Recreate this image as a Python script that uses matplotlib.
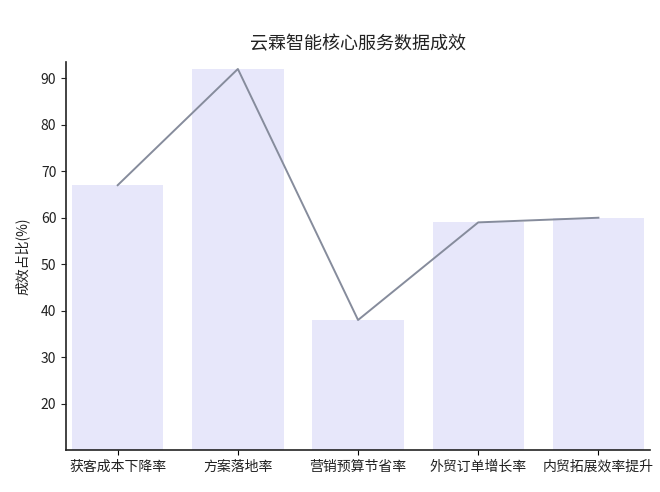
import matplotlib
matplotlib.use('Agg')
import matplotlib.pyplot as plt
import numpy as np

plt.rcParams['font.family'] = ['Noto Sans CJK SC', 'DejaVu Sans']

categories = ['获客成本下降率', '方案落地率', '营销预算节省率', '外贸订单增长率', '内贸拓展效率提升']
values = [67, 92, 38, 59, 60]

BAR = '#E7E7FA'
LINE = '#868C9C'
INK = '#222222'

fig = plt.figure(figsize=(6.6, 4.92), dpi=100)
ax = fig.add_axes([0.1, 0.085, 0.885, 0.789])

x = np.arange(len(categories))
ax.bar(x, values, 0.76, color=BAR, zorder=1)
ax.plot(x, values, color=LINE, linewidth=1.4, zorder=2)

ax.set_xlim(-0.43, len(categories) - 0.57)
ax.set_ylim(10, 93.5)
ax.set_yticks(np.arange(20, 91, 10))
ax.set_xticks(x)
ax.set_xticklabels(categories, fontsize=10, color=INK)
ax.tick_params(axis='y', labelsize=10, colors=INK)
ax.set_ylabel('成效占比(%)', fontsize=10, color=INK, labelpad=8)
ax.set_title('云霖智能核心服务数据成效', fontsize=13, color=INK, pad=9)

for s in ('top', 'right'):
    ax.spines[s].set_visible(False)
for s in ('left', 'bottom'):
    ax.spines[s].set_color(INK)
    ax.spines[s].set_linewidth(1.2)

fig.savefig('out.png', facecolor='white')
